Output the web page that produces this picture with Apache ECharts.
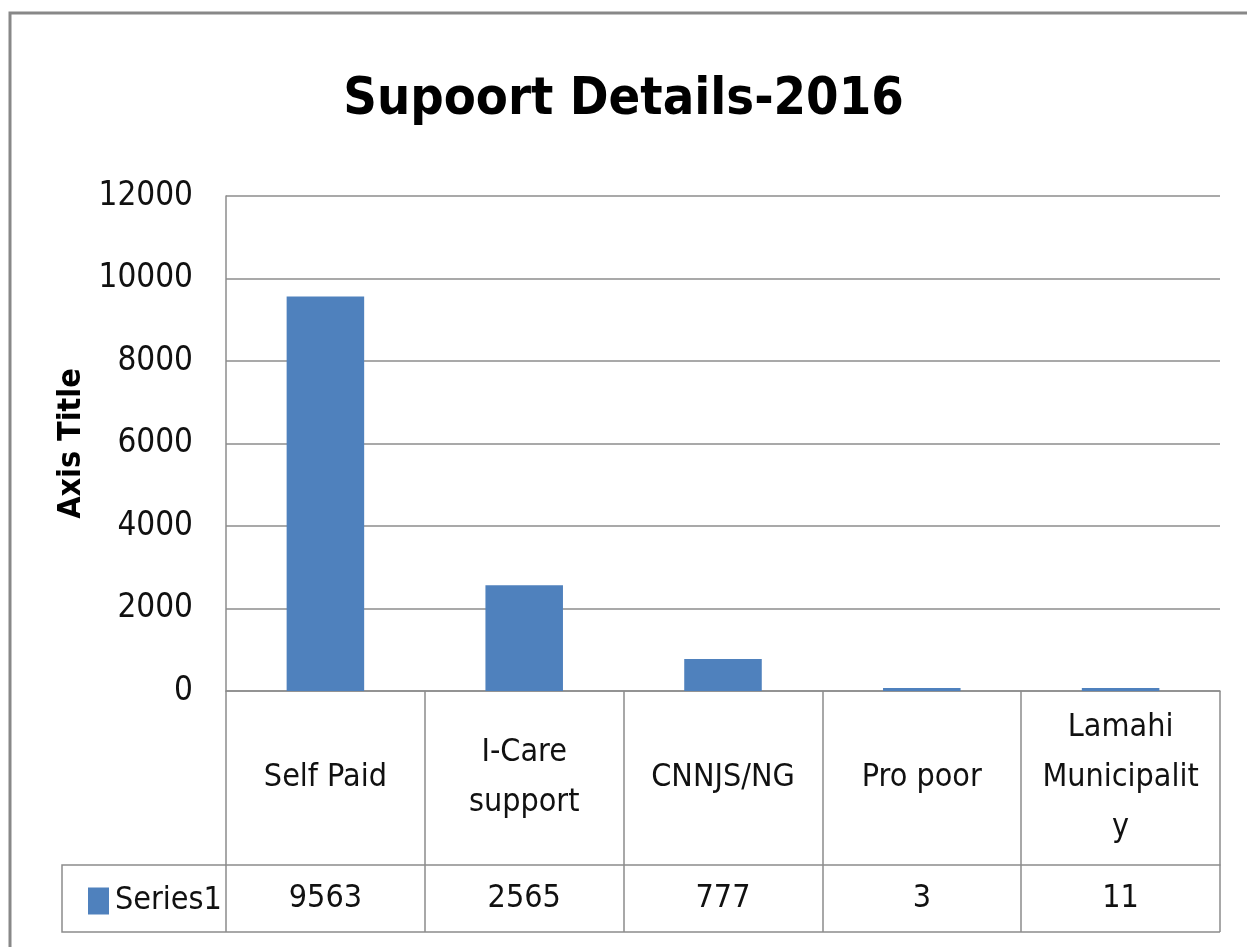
<!DOCTYPE html>
<html>
<head>
<meta charset="utf-8">
<script src="https://cdn.jsdelivr.net/npm/echarts@6/dist/echarts.min.js"></script>
<style>
  html, body { margin: 0; padding: 0; background: #fff; }
  #chart { width: 1247px; height: 947px; }
</style>
</head>
<body>
<div id="chart"></div>
<script>
// data
const categoryLabels = ['Self Paid', 'I-Care\nsupport', 'CNNJS/NG', 'Pro poor', 'Lamahi\nMunicipalit\ny'];
const seriesName = 'Series1';
const seriesValues = [9563, 2565, 777, 3, 11];
const yTicks = { min: 0, max: 12000, interval: 2000 };

const font = "'Liberation Sans Narrow', 'DejaVu Sans Condensed', 'Noto Sans', sans-serif";
const lineGray = '#8c8c8c';
const barBlue = '#4f81bd';

// plot box
const G = { left: 226, right: 27, top: 196, bottom: 256 };
const axisY = 947 - G.bottom;      // 691
const rowSplit = 865;
const tableBottom = 932;
const tableLeft = 62;
const plotRight = 1247 - G.right;  // 1220

const chart = echarts.init(document.getElementById('chart'));

const option = {
  animation: false,
  backgroundColor: '#fff',
  textStyle: { fontFamily: font },
  title: {
    text: 'Supoort Details-2016',
    left: 'center',
    top: 69,
    textStyle: { fontFamily: font, fontSize: 52, fontWeight: 'bold', color: '#000' }
  },
  legend: {
    data: [seriesName],
    left: 83,
    top: 880,
    icon: 'rect',
    itemWidth: 21,
    itemHeight: 27,
    itemGap: 0,
    textStyle: { fontFamily: font, fontSize: 32, color: '#111', padding: [0, 0, 0, 1] }
  },
  grid: { left: G.left, right: G.right, top: G.top, bottom: G.bottom, outerBoundsMode: 'none' },
  xAxis: [
    {
      type: 'category',
      data: categoryLabels,
      axisLine: { show: true, lineStyle: { color: lineGray, width: 1.5 } },
      axisTick: { show: true, length: tableBottom - axisY, lineStyle: { color: lineGray, width: 1.5 } },
      axisLabel: {
        interval: 0, margin: (rowSplit - axisY) / 2, verticalAlign: 'middle',
        fontFamily: font, fontSize: 32, color: '#111', lineHeight: 50
      }
    },
    {
      type: 'category',
      position: 'bottom',
      offset: rowSplit - axisY,
      data: seriesValues.map(String),
      axisLine: { show: true, lineStyle: { color: lineGray, width: 1.5 } },
      axisTick: { show: false },
      axisLabel: {
        interval: 0, margin: (tableBottom - rowSplit) / 2, verticalAlign: 'middle',
        fontFamily: font, fontSize: 32, color: '#111'
      }
    }
  ],
  yAxis: {
    type: 'value',
    min: yTicks.min,
    max: yTicks.max,
    interval: yTicks.interval,
    name: 'Axis Title',
    nameLocation: 'middle',
    nameRotate: 90,
    nameGap: 114,
    nameTextStyle: { fontFamily: font, fontSize: 32, fontWeight: 'bold', color: '#000' },
    axisLine: { show: true, lineStyle: { color: lineGray, width: 1.5 } },
    axisTick: { show: false },
    axisLabel: { margin: 33, fontFamily: font, fontSize: 33, color: '#111', formatter: v => String(v) },
    splitLine: { show: true, lineStyle: { color: lineGray, width: 1.5 } }
  },
  series: [
    {
      name: seriesName,
      type: 'bar',
      data: seriesValues,
      barWidth: '39%',
      barMinHeight: 3,
      itemStyle: { color: barBlue }
    }
  ],
  graphic: [
    // outer chart border
    {
      type: 'rect', silent: true,
      shape: { x: 10, y: 13, width: 1300, height: 1000 },
      style: { fill: 'none', stroke: '#888', lineWidth: 3 }
    },
    // legend cell and bottom of the data table
    {
      type: 'polyline', silent: true,
      shape: { points: [[G.left, rowSplit], [tableLeft, rowSplit], [tableLeft, tableBottom], [plotRight, tableBottom]] },
      style: { fill: 'none', stroke: lineGray, lineWidth: 1.5 }
    }
  ]
};

chart.setOption(option);
</script>
</body>
</html>
